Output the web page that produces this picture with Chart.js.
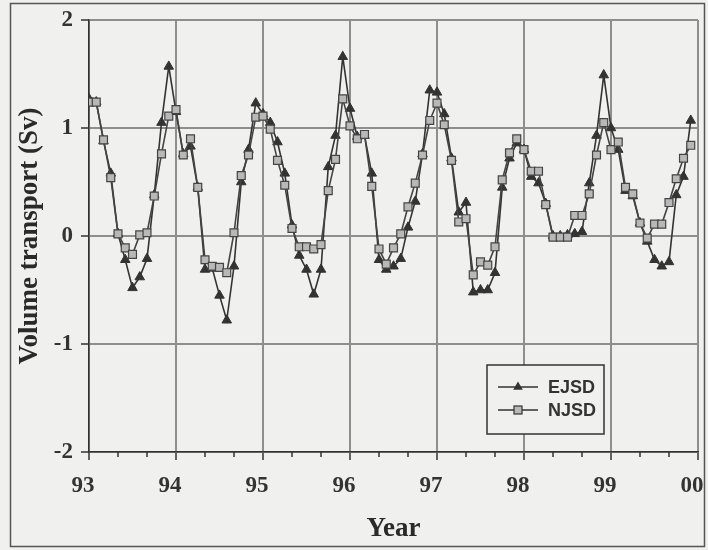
<!DOCTYPE html>
<html>
<head>
<meta charset="utf-8">
<title>Volume transport EJSD / NJSD</title>
<script src="https://cdn.jsdelivr.net/npm/chart.js@4.4.1/dist/chart.umd.min.js"></script>
<style>
  html, body { margin: 0; padding: 0; background: #f0f0ee; }
  #wrap { width: 708px; height: 550px; }
</style>
</head>
<body>
<div id="wrap"><canvas id="chart" width="708" height="550"></canvas></div>
<script>
"use strict";

// Years on the x axis (two-digit labels), monthly samples from Jan 93
const firstYear = 93;
const lastYear = 100;
const yearLabels = ["93", "94", "95", "96", "97", "98", "99", "00"];
const yTicks = [-2, -1, 0, 1, 2];

// Monthly volume transport (Sv)
const ejsd = [
  1.27, 1.24, 0.88, 0.58, 0.02, -0.22, -0.48, -0.38, -0.21, 0.38, 1.05, 1.57,
  1.15, 0.76, 0.83, 0.45, -0.31, -0.30, -0.55, -0.78, -0.28, 0.50, 0.80, 1.23,
  1.13, 1.05, 0.87, 0.58, 0.10, -0.18, -0.31, -0.54, -0.31, 0.64, 0.93, 1.66,
  1.18, 0.92, 0.93, 0.58, -0.22, -0.31, -0.28, -0.21, 0.08, 0.32, 0.76, 1.35,
  1.33, 1.13, 0.72, 0.22, 0.31, -0.52, -0.50, -0.50, -0.34, 0.45, 0.72, 0.86,
  0.80, 0.55, 0.49, 0.30, 0.00, 0.00, 0.01, 0.02, 0.04, 0.49, 0.93, 1.49,
  1.00, 0.80, 0.42, 0.37, 0.12, -0.05, -0.22, -0.28, -0.24, 0.38, 0.55, 1.07
];
const njsd = [
  1.24, 1.24, 0.89, 0.54, 0.02, -0.11, -0.17, 0.01, 0.03, 0.37, 0.76, 1.11,
  1.17, 0.75, 0.90, 0.45, -0.22, -0.28, -0.29, -0.34, 0.03, 0.56, 0.75, 1.10,
  1.11, 0.99, 0.70, 0.47, 0.07, -0.10, -0.10, -0.12, -0.08, 0.42, 0.71, 1.27,
  1.02, 0.90, 0.94, 0.46, -0.12, -0.26, -0.11, 0.02, 0.27, 0.49, 0.75, 1.07,
  1.23, 1.03, 0.70, 0.13, 0.16, -0.36, -0.24, -0.27, -0.10, 0.52, 0.77, 0.90,
  0.80, 0.60, 0.60, 0.29, -0.01, -0.01, -0.01, 0.19, 0.19, 0.39, 0.75, 1.05,
  0.80, 0.87, 0.45, 0.39, 0.12, -0.02, 0.11, 0.11, 0.31, 0.53, 0.72, 0.84
];

const bg = "#f0f0ee";
const ink = "#333333";
const gridGray = "#8e8e8e";
const serif = "'Liberation Serif', 'Times New Roman', serif";
const sans = "'Liberation Sans', Arial, sans-serif";

// month index -> decimal year
function toPoints(values) {
  return values.map((v, i) => ({ x: firstYear + i / 12, y: v }));
}

// Background, minor ticks, outer frame and boxed legend
const decorations = {
  id: "decorations",
  beforeDraw(chart) {
    const ctx = chart.ctx;
    ctx.save();
    ctx.fillStyle = bg;
    ctx.fillRect(0, 0, chart.width, chart.height);
    ctx.restore();
  },
  afterDraw(chart) {
    const ctx = chart.ctx;
    const xs = chart.scales.x;
    const bottom = chart.chartArea.bottom;
    ctx.save();

    // minor ticks every 4 months
    ctx.strokeStyle = ink;
    ctx.lineWidth = 1.5;
    for (let y = firstYear; y < lastYear; y++) {
      for (let k = 1; k < 3; k++) {
        const px = xs.getPixelForValue(y + k / 3);
        ctx.beginPath();
        ctx.moveTo(px, bottom - 1);
        ctx.lineTo(px, bottom + 5);
        ctx.stroke();
      }
    }

    // frame round the figure
    ctx.strokeStyle = "#555";
    ctx.lineWidth = 1.5;
    ctx.strokeRect(10.5, 3.5, 694, 543);

    // legend
    const box = { x: 487, y: 365, w: 117, h: 69 };
    ctx.fillStyle = bg;
    ctx.fillRect(box.x, box.y, box.w, box.h);
    ctx.strokeStyle = ink;
    ctx.lineWidth = 1.5;
    ctx.strokeRect(box.x, box.y, box.w, box.h);

    const rows = [
      { label: "EJSD", y: 387, style: "triangle" },
      { label: "NJSD", y: 410, style: "rect" }
    ];
    rows.forEach((r) => {
      ctx.strokeStyle = ink;
      ctx.lineWidth = 1.5;
      ctx.beginPath();
      ctx.moveTo(498, r.y);
      ctx.lineTo(538, r.y);
      ctx.stroke();
      const cx = 518;
      if (r.style === "triangle") {
        ctx.fillStyle = ink;
        ctx.beginPath();
        ctx.moveTo(cx, r.y - 5.5);
        ctx.lineTo(cx + 4.8, r.y + 2.8);
        ctx.lineTo(cx - 4.8, r.y + 2.8);
        ctx.closePath();
        ctx.fill();
      } else {
        ctx.fillStyle = "#b8b8b8";
        ctx.fillRect(cx - 4, r.y - 4, 8, 8);
        ctx.lineWidth = 1.2;
        ctx.strokeRect(cx - 4, r.y - 4, 8, 8);
      }
      ctx.fillStyle = ink;
      ctx.font = "bold 18px " + sans;
      ctx.textAlign = "left";
      ctx.textBaseline = "middle";
      ctx.fillText(r.label, 548, r.y + 1);
    });
    ctx.restore();
  }
};

const ctx = document.getElementById("chart").getContext("2d");
const chart = new Chart(ctx, {
  type: "line",
  data: {
    datasets: [
      {
        label: "EJSD",
        data: toPoints(ejsd),
        borderColor: ink,
        borderWidth: 1.6,
        backgroundColor: ink,
        pointStyle: "triangle",
        pointRadius: 5.5,
        pointBorderWidth: 1,
        pointBorderColor: ink,
        pointBackgroundColor: ink,
        tension: 0,
        order: 2
      },
      {
        label: "NJSD",
        data: toPoints(njsd),
        borderColor: "#444444",
        borderWidth: 1.6,
        backgroundColor: "#b8b8b8",
        pointStyle: "rect",
        pointRadius: 5.6,
        pointBorderWidth: 1.2,
        pointBorderColor: "#444444",
        pointBackgroundColor: "#b8b8b8",
        tension: 0,
        order: 1
      }
    ]
  },
  options: {
    responsive: false,
    animation: false,
    devicePixelRatio: 1,
    layout: { padding: { top: 20, right: 10, left: 0, bottom: 0 } },
    plugins: {
      legend: { display: false },
      tooltip: { enabled: false }
    },
    scales: {
      x: {
        type: "linear",
        min: firstYear,
        max: lastYear,
        afterFit(scale) {
          scale.height = 98;
          scale.paddingLeft = 0;
          scale.paddingRight = 0;
        },
        ticks: {
          stepSize: 1,
          autoSkip: false,
          maxRotation: 0,
          padding: 12,
          labelOffset: -6,
          color: ink,
          font: { family: serif, size: 23, weight: "bold" },
          callback: (v) => yearLabels[Math.round(v) - firstYear]
        },
        grid: {
          color: gridGray,
          lineWidth: 2,
          tickLength: 8,
          tickColor: ink,
          tickWidth: 1.5
        },
        border: { display: true, color: ink, width: 1.5 },
        title: {
          display: true,
          text: "Year",
          color: "#2a2a2a",
          font: { family: serif, size: 27, weight: "bold" },
          padding: { top: 0, bottom: 5 }
        }
      },
      y: {
        min: yTicks[0],
        max: yTicks[yTicks.length - 1],
        afterFit(scale) {
          scale.width = 89;
          scale.paddingTop = 0;
          scale.paddingBottom = 0;
        },
        ticks: {
          stepSize: 1,
          padding: 8,
          color: ink,
          font: { family: serif, size: 23, weight: "bold" }
        },
        grid: {
          color: gridGray,
          lineWidth: 2,
          tickLength: 8,
          tickColor: ink,
          tickWidth: 1.5
        },
        border: { display: true, color: ink, width: 1.5 },
        title: {
          display: true,
          text: "Volume transport (Sv)",
          color: "#2a2a2a",
          font: { family: serif, size: 27, weight: "bold" },
          padding: { top: 14, bottom: 0 }
        }
      }
    }
  },
  plugins: [decorations]
});
</script>
</body>
</html>
